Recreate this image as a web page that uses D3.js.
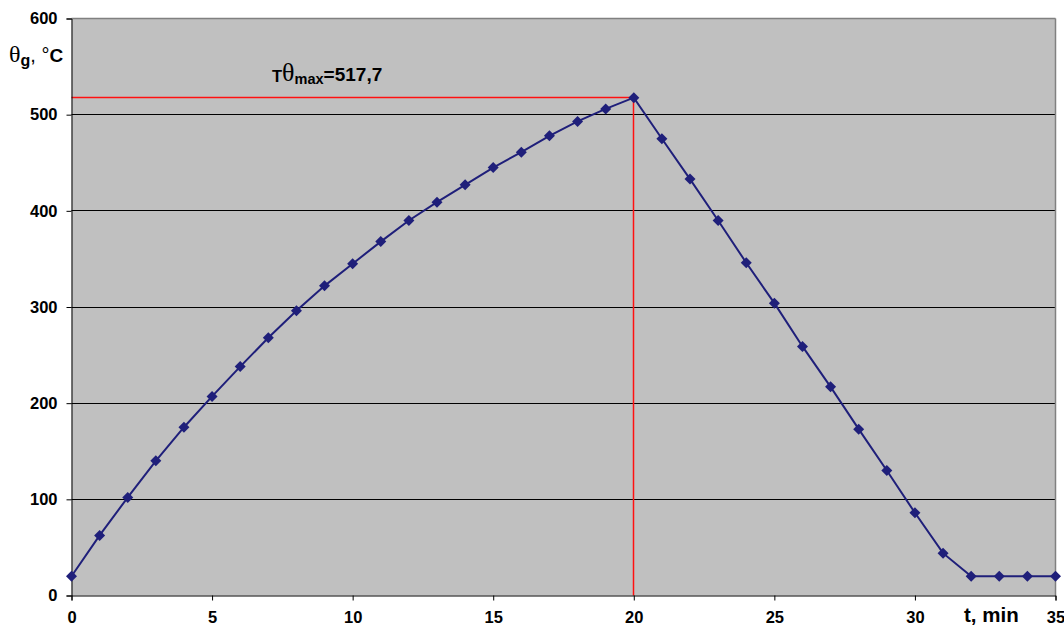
<!DOCTYPE html>
<html><head><meta charset="utf-8">
<script src="https://cdn.jsdelivr.net/npm/d3@7"></script>
<style>body{margin:0;background:#fff}svg{display:block}text{font-family:"Liberation Sans",Arial,sans-serif}</style>
</head><body><svg id="c" width="1064" height="628"></svg>
<script>
const times = [0,1,2,3,4,5,6,7,8,9,10,11,12,13,14,15,16,17,18,19,20,21,22,23,24,25,26,27,28,29,30,31,32,33,34,35];
const temps = [20,62.5,102,140,175,207,238,268,296,322,345,368,390,409,427,445,461,478,493,506,517.7,475,433,390,346,304,259,217,173,130,86,44,20,20,20,20];
const xTicks = [0,5,10,15,20,25,30,35];
const yTicks = [0,100,200,300,400,500,600];
const peakT = 20, peakV = 517.7;

const svg = d3.select("#c");
const x = d3.scaleLinear().domain([0,35]).range([71.5,1055.5]);
const y = d3.scaleLinear().domain([0,600]).range([595.5,18.5]);
const r = v => Math.round(v - 0.5) + 0.5;

svg.append("rect").attr("x",x(0)).attr("y",y(600)).attr("width",x(35)-x(0)).attr("height",y(0)-y(600)).attr("fill","#c0c0c0");
// gridlines
svg.append("g").selectAll("line").data(yTicks.filter(d=>d>0&&d<600)).join("line")
  .attr("x1",x(0)).attr("x2",x(35)).attr("y1",d=>r(y(d))).attr("y2",d=>r(y(d))).attr("stroke","#000").attr("stroke-width",1);
// borders top/right
svg.append("line").attr("x1",x(0)).attr("x2",x(35)).attr("y1",y(600)).attr("y2",y(600)).attr("stroke","#808080").attr("stroke-width",1.5);
svg.append("line").attr("x1",x(35)).attr("x2",x(35)).attr("y1",y(600)).attr("y2",y(0)).attr("stroke","#808080").attr("stroke-width",1.5);

// red lines
svg.append("path").attr("d",`M${x(0)},${r(y(peakV))}H${r(x(peakT))}V${y(0)}`).attr("fill","none").attr("stroke","#ff1010").attr("stroke-width",1.5);

// axes
const yAxis = d3.axisLeft(y).tickValues(yTicks).tickSize(5).tickPadding(9).tickFormat(d3.format("d"));
const gy = svg.append("g").attr("transform",`translate(${x(0)},0)`).call(yAxis);
const xAxis = d3.axisBottom(x).tickValues(xTicks).tickSize(5).tickPadding(11).tickFormat(d3.format("d"));
const gx = svg.append("g").attr("transform",`translate(0,${y(0)})`).call(xAxis);
[gx,gy].forEach(g=>{
  g.attr("font-size",16.5);
  g.select(".domain").attr("stroke","#000").attr("stroke-width",1);
  g.selectAll(".tick line").attr("stroke","#000");
  g.selectAll(".tick text").style("font-size","16.5px").style("font-weight","bold").attr("fill","#000")
   .style("font-family",'"Liberation Sans",Arial,sans-serif');
});

// series
const data = times.map((t,i)=>({t,v:temps[i]}));
svg.append("path").datum(data).attr("d",d3.line().x(d=>x(d.t)).y(d=>y(d.v)))
  .attr("fill","none").attr("stroke","#1f1f7a").attr("stroke-width",2);
svg.append("g").selectAll("path").data(data).join("path")
  .attr("transform",d=>`translate(${x(d.t)},${y(d.v)})`)
  .attr("d","M0,-5.5L5.5,0L0,5.5L-5.5,0Z").attr("fill","#1f1f7a");

// annotation
const ann = svg.append("text").attr("x",272).attr("y",81).attr("font-weight","bold").attr("fill","#000");
ann.append("tspan").text("T").attr("font-size",16.5).attr("dy",1);
ann.append("tspan").text("θ").attr("font-weight","normal").attr("font-size",26).attr("dy",-1).attr("font-family","'Liberation Serif',serif");
ann.append("tspan").text("max").attr("font-size",14.5).attr("dy",2.5);
ann.append("tspan").text("=517,7").attr("font-size",19).attr("dy",-2.5);

// y label
const yl = svg.append("text").attr("x",9).attr("y",62).attr("font-size",19).attr("fill","#000");
yl.append("tspan").text("θ").attr("font-family","'Liberation Serif',serif").attr("font-size",24);
yl.append("tspan").text("g").attr("font-weight","bold").attr("font-size",16).attr("dy",4);
yl.append("tspan").text(", °").attr("dy",-4).attr("font-size",20);
yl.append("tspan").text("C").attr("font-weight","bold").attr("font-size",19);

// x label
svg.append("text").attr("x",964).attr("y",622).attr("font-size",20.5).attr("font-weight","bold").attr("fill","#000").text("t, min");
</script></body></html>
